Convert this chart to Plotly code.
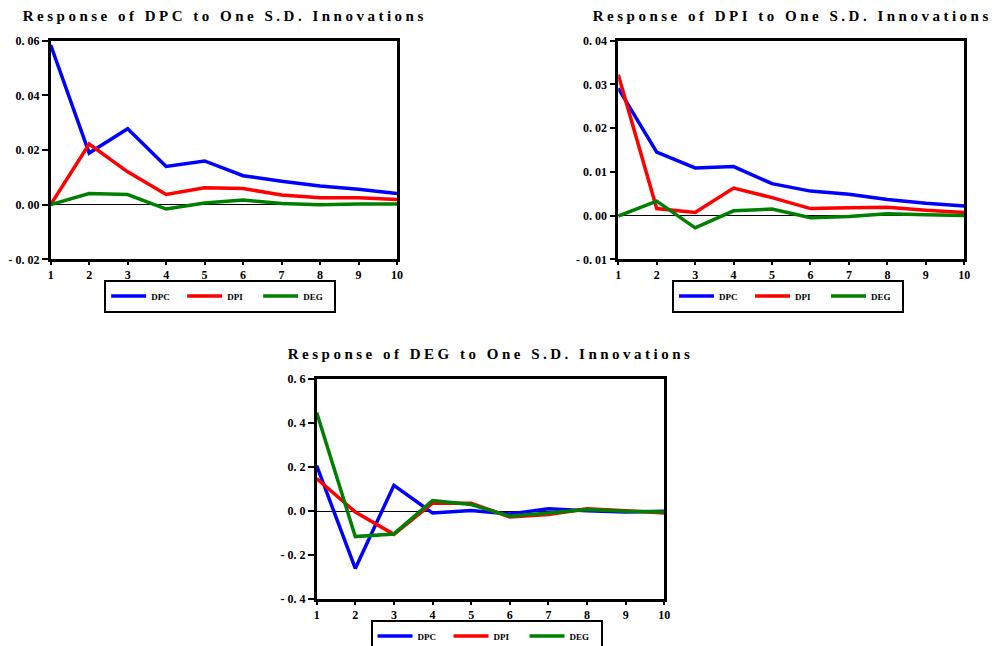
import plotly.graph_objects as go

periods = list(range(1, 11))

# Response of DPC
dpc_dpc = [0.0584, 0.0189, 0.0278, 0.0140, 0.0160, 0.0106, 0.0086, 0.0068, 0.0056, 0.0041]
dpc_dpi = [0.0000, 0.0222, 0.0120, 0.0037, 0.0062, 0.0059, 0.0035, 0.0025, 0.0025, 0.0019]
dpc_deg = [0.0000, 0.0041, 0.0037, -0.0016, 0.0006, 0.0017, 0.0004, 0.0000, 0.0002, 0.0002]

# Response of DPI
dpi_dpc = [0.0291, 0.0145, 0.0109, 0.0112, 0.0073, 0.0056, 0.0049, 0.0037, 0.0028, 0.0022]
dpi_dpi = [0.0322, 0.0016, 0.0007, 0.0063, 0.0041, 0.0016, 0.0018, 0.0019, 0.0012, 0.0007]
dpi_deg = [-0.0001, 0.0033, -0.0028, 0.0011, 0.0015, -0.0005, -0.0002, 0.0004, 0.0002, 0.0000]

# Response of DEG
deg_dpc = [0.208, -0.260, 0.118, -0.008, 0.003, -0.012, 0.011, 0.002, -0.003, 0.000]
deg_dpi = [0.149, -0.003, -0.105, 0.037, 0.037, -0.026, -0.015, 0.012, 0.003, -0.008]
deg_deg = [0.449, -0.115, -0.103, 0.049, 0.031, -0.023, -0.008, 0.008, 0.000, -0.003]

series_names = ["DPC", "DPI", "DEG"]
colors = ["#0000FF", "#FF0000", "#008000"]

titles = ["Response of DPC to One S.D. Innovations",
          "Response of DPI to One S.D. Innovations",
          "Response of DEG to One S.D. Innovations"]

y1_vals = [-0.02, 0.00, 0.02, 0.04, 0.06]
y1_text = ["- 0. 02", "0. 00", "0. 02", "0. 04", "0. 06"]
y2_vals = [-0.01, 0.00, 0.01, 0.02, 0.03, 0.04]
y2_text = ["- 0. 01", "0. 00", "0. 01", "0. 02", "0. 03", "0. 04"]
y3_vals = [-0.4, -0.2, 0.0, 0.2, 0.4, 0.6]
y3_text = ["- 0. 4", "- 0. 2", "0. 0", "0. 2", "0. 4", "0. 6"]

panels = [
    ([dpc_dpc, dpc_dpi, dpc_deg], "x", "y", "legend"),
    ([dpi_dpc, dpi_dpi, dpi_deg], "x2", "y2", "legend2"),
    ([deg_dpc, deg_dpi, deg_deg], "x3", "y3", "legend3"),
]

fig = go.Figure()
for data, xa, ya, lg in panels:
    for vals, name, col in zip(data, series_names, colors):
        fig.add_trace(go.Scatter(x=periods, y=vals, mode="lines", name=name,
                                 line=dict(color=col, width=3.5),
                                 xaxis=xa, yaxis=ya, legend=lg))

font_fam = "Liberation Serif, Times New Roman, serif"
tickfont = dict(family=font_fam, size=12, color="black", weight="bold")

def xax(domain, anchor):
    return dict(domain=domain, anchor=anchor, range=[1, 10],
                tickvals=periods, ticks="outside", ticklen=3, tickwidth=1.5,
                tickcolor="black", showline=True, linewidth=2.5, linecolor="black",
                mirror=True, showgrid=False, zeroline=False, tickfont=tickfont)

def yax(domain, anchor, rng, vals, text):
    return dict(domain=domain, anchor=anchor, range=rng, tickvals=vals, ticktext=text,
                ticks="outside", ticklen=6, tickwidth=1.5, tickcolor="black",
                showline=True, linewidth=2.5, linecolor="black", mirror=True,
                showgrid=False, zeroline=True, zerolinecolor="black",
                zerolinewidth=1, tickfont=tickfont)

top_dom = [0.5986, 0.937]
bot_dom = [0.0723, 0.4129]
legend_style = dict(orientation="h", xanchor="center", yanchor="middle",
                    bordercolor="black", borderwidth=2, bgcolor="white",
                    font=dict(family=font_fam, size=9, color="black", weight="bold"),
                    itemwidth=35, tracegroupgap=0, entrywidth=26,
                    traceorder="normal")

fig.update_layout(
    width=998, height=646,
    margin=dict(l=0, r=0, t=0, b=0, autoexpand=False),
    paper_bgcolor="white", plot_bgcolor="white",
    xaxis=xax([0.0508, 0.3978], "y"),
    yaxis=yax(top_dom, "x", [-0.02, 0.06], y1_vals, y1_text),
    xaxis2=xax([0.6195, 0.9662], "y2"),
    yaxis2=yax(top_dom, "x2", [-0.01, 0.04], y2_vals, y2_text),
    xaxis3=xax([0.3173, 0.6656], "y3"),
    yaxis3=yax(bot_dom, "x3", [-0.4, 0.6], y3_vals, y3_text),
    legend=dict(x=0.2206, y=1 - 296 / 646, **legend_style),
    legend2=dict(x=0.7896, y=1 - 296 / 646, **legend_style),
    legend3=dict(x=0.4875, y=1 - 636 / 646, **legend_style),
    showlegend=True,
)

title_pos = [(0.2255, 1 - 16 / 646), (0.7936, 1 - 16 / 646), (0.491, 1 - 354 / 646)]
for t, (tx, ty) in zip(titles, title_pos):
    fig.add_annotation(text=t, x=tx, y=ty, xref="paper", yref="paper",
                       xanchor="center", yanchor="middle", showarrow=False,
                       font=dict(family=font_fam, size=15, color="black", weight="bold"))

post = """
document.body.style.margin = '0';
document.querySelectorAll('.annotation-text').forEach(function(e){
  e.style.letterSpacing = '3.5px';
});
"""
fig.write_html("out.html", post_script=post, config={"displayModeBar": False})
